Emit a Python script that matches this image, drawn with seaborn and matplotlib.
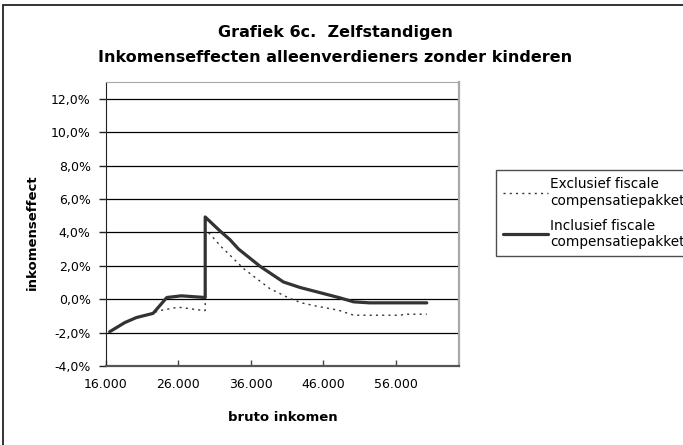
import matplotlib
matplotlib.use("Agg")
import matplotlib.pyplot as plt
import matplotlib.patches as patches
from matplotlib.ticker import FuncFormatter
import seaborn as sns

# income (euro) and income effect (%)
incl_income = [16500, 18600, 20200, 22500, 24400, 26400, 29700, 29700, 31700,
               33100, 34300, 37300, 40500, 42800, 46000, 48300, 50200, 52400, 60300]
incl_effect = [-1.95, -1.40, -1.10, -0.85, 0.10, 0.20, 0.10, 4.92, 4.10,
               3.57, 3.00, 1.96, 1.03, 0.70, 0.34, 0.08, -0.16, -0.22, -0.22]

excl_income = [16500, 18600, 20200, 22500, 23200, 26000, 29500, 29700, 29700,
               30600, 32000, 32900, 35000, 38600, 41200, 43000, 45100, 48100,
               50200, 56600, 57500, 60300]
excl_effect = [-1.95, -1.40, -1.10, -0.85, -0.70, -0.48, -0.68, -0.68, 4.20,
               3.78, 3.10, 2.73, 1.83, 0.64, 0.08, -0.22, -0.42, -0.66,
               -0.96, -0.96, -0.90, -0.90]

x_ticks = [16000, 26000, 36000, 46000, 56000]
y_ticks = [-4, -2, 0, 2, 4, 6, 8, 10, 12]

labels = ["Exclusief fiscale\ncompensatiepakket", "Inclusief fiscale\ncompensatiepakket"]

sns.set_style("white")
plt.rcParams['font.family'] = ['DejaVu Sans']
plt.rcParams['text.color'] = 'black'
plt.rcParams['axes.labelcolor'] = 'black'
plt.rcParams['xtick.color'] = 'black'
plt.rcParams['ytick.color'] = 'black'

fig = plt.figure(figsize=(6.83, 4.45), dpi=100)
ax = fig.add_axes([106/683, 1-366/445, (459-106)/683, (366-82)/445])

sns.lineplot(x=excl_income, y=excl_effect, sort=False, estimator=None, ax=ax,
             color='#333333', lw=1.0, linestyle=(0, (1.5, 3)), label=labels[0])
sns.lineplot(x=incl_income, y=incl_effect, sort=False, estimator=None, ax=ax,
             color='#333333', lw=2.3, label=labels[1])

ax.set_xlim(16000, 64750)
ax.set_ylim(-4, 13)
ax.set_xticks(x_ticks)
ax.set_yticks(y_ticks)
ax.xaxis.set_major_formatter(FuncFormatter(lambda v, p: f"{int(v):,}".replace(',', '.')))
ax.yaxis.set_major_formatter(FuncFormatter(lambda v, p: f"{v:.1f}%".replace('.', ',')))
ax.tick_params(axis='y', direction='out', length=5, width=1, color='#222222',
               labelsize=9, pad=6, left=True)
ax.tick_params(axis='x', direction='in', length=4, width=1, color='#444444',
               labelsize=9, pad=9, bottom=True)
ax.yaxis.grid(True, color='black', lw=0.9)
ax.xaxis.grid(False)

ax.spines['left'].set_color('#222222')
ax.spines['bottom'].set_color('#555555')
ax.spines['bottom'].set_linewidth(1.6)
ax.spines['top'].set_color('#a8a8a8')
ax.spines['right'].set_color('#a8a8a8')
ax.spines['right'].set_linewidth(1.6)

ax.set_xlabel("bruto inkomen", fontsize=9.5, fontweight='bold', labelpad=14)
ax.set_ylabel("inkomenseffect", fontsize=9.5, fontweight='bold')
ax.yaxis.set_label_coords(-0.19, 0.47)

fig.text(0.491, 1-33/445, "Grafiek 6c.  Zelfstandigen", ha='center', va='center',
         fontsize=11.5, fontweight='bold')
fig.text(0.491, 1-57/445, "Inkomenseffecten alleenverdieners zonder kinderen",
         ha='center', va='center', fontsize=11.5, fontweight='bold')

leg = ax.legend(loc='upper left', bbox_to_anchor=(496/683, 1-170/445),
                bbox_transform=fig.transFigure, borderaxespad=0, fontsize=9.8,
                frameon=True, fancybox=False, handlelength=3.3, handletextpad=0.1,
                borderpad=0.55, labelspacing=0.8)
leg.get_frame().set_edgecolor('#222222')
leg.get_frame().set_linewidth(1.0)

fig.add_artist(patches.Rectangle((3/683, -0.1), 1.2, 1-5/445+0.1,
                                 transform=fig.transFigure, fill=False,
                                 edgecolor='#222222', lw=1.3))

fig.savefig("out.png", dpi=100)
